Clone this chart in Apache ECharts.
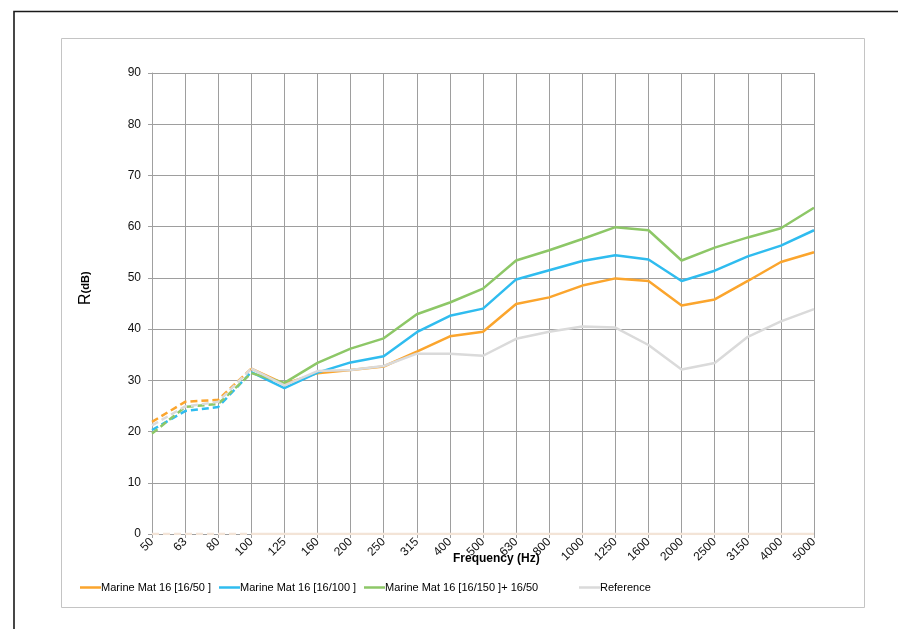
<!DOCTYPE html>
<html>
<head>
<meta charset="utf-8">
<script src="https://cdn.jsdelivr.net/npm/echarts@6/dist/echarts.min.js"></script>
<style>
  html, body { margin: 0; padding: 0; background: #fff; }
  #chart { width: 898px; height: 629px; }
</style>
</head>
<body>
<div id="chart"></div>
<script>
// frequency bands (Hz)
const freqs = ['50', '63', '80', '100', '125', '160', '200', '250', '315', '400', '500',
  '630', '800', '1000', '1250', '1600', '2000', '2500', '3150', '4000', '5000']

// R (dB)
const mat50  = [21.9, 25.8, 26.2, 32.3, 29.3, 31.4, 32.0, 32.7, 35.6, 38.6, 39.5,
  44.9, 46.2, 48.5, 49.9, 49.4, 44.6, 45.8, 49.4, 53.1, 55.0]
const mat100 = [20.3, 24.0, 24.8, 31.6, 28.5, 31.5, 33.5, 34.7, 39.4, 42.6, 44.0,
  49.7, 51.5, 53.3, 54.4, 53.6, 49.4, 51.4, 54.2, 56.3, 59.3]
const mat150 = [19.6, 24.8, 25.4, 31.4, 29.5, 33.4, 36.2, 38.2, 42.9, 45.2, 47.9,
  53.4, 55.4, 57.6, 59.9, 59.3, 53.4, 55.9, 57.9, 59.7, 63.7]
const reference = [21.2, 24.9, 25.8, 32.3, 29.0, 31.8, 32.0, 32.8, 35.2, 35.2, 34.8,
  38.1, 39.5, 40.5, 40.3, 36.9, 32.1, 33.4, 38.5, 41.5, 43.9]
const baseline = [0, 0, 0, 0, 0, 0, 0, 0, 0, 0, 0, 0, 0, 0, 0, 0, 0, 0, 0, 0, 0]

const yTicks = { min: 0, max: 90, step: 10 }
const dashedUpTo = 3 // bands 50..100 Hz are drawn dashed

const lines = [
  { name: 'Marine Mat 16 [16/50 ]', data: mat50, color: '#fba52d' },
  { name: 'Marine Mat 16 [16/100 ]', data: mat100, color: '#2fbcef' },
  { name: 'Marine Mat 16 [16/150 ]+ 16/50', data: mat150, color: '#8dc767' },
  { name: 'Zero', data: baseline, color: '#f3e4d7' },
  { name: 'Reference', data: reference, color: '#dadada' }
]

const font = '"Liberation Sans", Arial, sans-serif'

function splitSeries(l) {
  const dashed = l.data.map((v, i) => (i <= dashedUpTo ? v : '-'))
  const solid = l.data.map((v, i) => (i >= dashedUpTo ? v : '-'))
  const common = { type: 'line', symbol: 'none', silent: true, color: l.color }
  return [
    { ...common, name: l.name + ' *', data: dashed,
      lineStyle: { color: l.color, width: 2.5, type: [7, 4] } },
    { ...common, name: l.name, data: solid,
      lineStyle: { color: l.color, width: 2.5 } }
  ]
}

const legendLeft = [80, 219, 364, 579]
const legendNames = lines.filter(l => l.name !== 'Zero').map(l => l.name)

const chart = echarts.init(document.getElementById('chart'))
chart.setOption({
  animation: false,
  backgroundColor: '#fff',
  grid: { left: 152, right: 84, top: 73, bottom: 95, show: false },
  graphic: [
    { type: 'rect', shape: { x: 14, y: 11.5, width: 1000, height: 1000 },
      style: { fill: 'none', stroke: '#1a1a1a', lineWidth: 1.6 } },
    { type: 'rect', shape: { x: 61.5, y: 38.5, width: 803, height: 569 },
      style: { fill: 'none', stroke: '#c4c4c4', lineWidth: 1 } },
    { type: 'text', x: 78, y: 305, rotation: Math.PI / 2,
      style: { text: '{r|R}{u|(dB)}', rich: {
        r: { fontFamily: font, fontSize: 16, fill: '#000' },
        u: { fontFamily: font, fontSize: 11, fontWeight: 'bold', fill: '#000' } } } },
    { type: 'text', x: 453, y: 553,
      style: { text: 'Frequency (Hz)', fontFamily: font, fontSize: 12,
        fontWeight: 'bold', fill: '#000' } }
  ],
  legend: legendNames.map((n, i) => ({
    data: [n], left: legendLeft[i], top: 582, padding: 0,
    icon: 'rect', itemWidth: 21, itemHeight: 2.5, selectedMode: false,
    textStyle: { fontFamily: font, fontSize: 11, color: '#000', padding: [0, 0, 0, -5] }
  })),
  xAxis: {
    type: 'category',
    data: freqs,
    boundaryGap: false,
    axisLine: { show: true, lineStyle: { color: '#a0a0a0' } },
    axisTick: { show: true, length: 4, lineStyle: { color: '#a0a0a0' } },
    splitLine: { show: true, lineStyle: { color: '#9e9e9e', width: 1 } },
    axisLabel: { rotate: 45, interval: 0, fontFamily: font, fontSize: 12, color: '#111', margin: 6 }
  },
  yAxis: {
    type: 'value',
    min: yTicks.min, max: yTicks.max, interval: yTicks.step,
    axisLine: { show: true, lineStyle: { color: '#a0a0a0' } },
    axisTick: { show: true, length: 4, lineStyle: { color: '#a0a0a0' } },
    splitLine: { show: true, lineStyle: { color: '#9e9e9e', width: 1 } },
    axisLabel: { fontFamily: font, fontSize: 12, color: '#111', margin: 11 }
  },
  series: lines.flatMap(splitSeries)
})
</script>
</body>
</html>
